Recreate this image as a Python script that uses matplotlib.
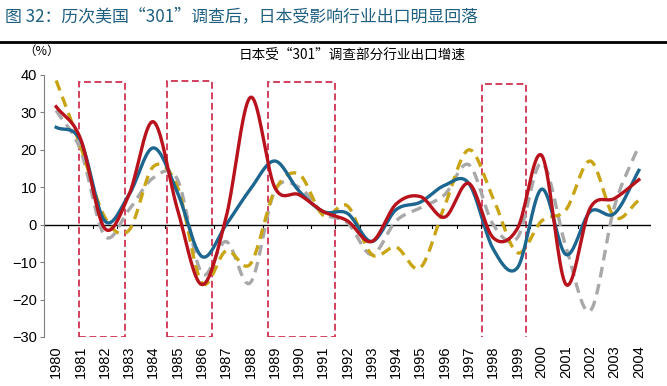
import matplotlib.pyplot as plt
import matplotlib.patches as patches
import numpy as np

plt.rcParams['font.family'] = ['Noto Sans CJK SC', 'DejaVu Sans']
latin = ['Liberation Sans', 'DejaVu Sans']

years = [str(y) for y in range(1980, 2005)]

# four industries (no legend in the original)
red = [31.5, 23, -1, 8, 27.5, 4, -16, 2, 34, 10, 8, 3.5, 1, -4.5, 5.5, 7.5, 2, 11, -3.5, -1, 18.5, -16, 4.5, 7, 12]
blue = [26, 22.5, 1, 8, 20.5, 8.5, -8.5, 0, 9.5, 17, 9, 3.5, 3, -4.5, 4, 6, 10.5, 11, -6.5, -11.5, 9.5, -8, 3.5, 3, 14.5]
gold = [38.5, 21, 2, -1.5, 15.5, 10, -15.5, -7, -10.5, 9, 13.5, 2.5, 5, -8, -6, -11.5, 5, 20, 7, -7.5, 1, 4, 17, 2, 6.5]
gray = [30.5, 20, -3, 4, 12.5, 12, -13, -4.5, -15.5, 9, 10, 3, 0.5, -8, 1, 4.5, 8, 16, 0, -3.5, 16.5, -6, -23, 5, 21]

# highlighted periods (category index start, end, top, bottom)
boxes = [(0.94, 2.83, 38, -30), (4.55, 6.43, 38.3, -30), (8.72, 11.47, 38, -30), (17.52, 19.35, 37.5, -31)]


def smooth(y, n=20):
    # catmull-rom through the points, like excel smoothed lines
    y = np.asarray(y, float)
    x = np.arange(len(y), dtype=float)
    px = np.concatenate([[2 * x[0] - x[1]], x, [2 * x[-1] - x[-2]]])
    py = np.concatenate([[2 * y[0] - y[1]], y, [2 * y[-1] - y[-2]]])
    xs, ys = [], []
    t = np.linspace(0, 1, n, endpoint=False)
    for i in range(1, len(px) - 2):
        for arr, out in ((px, xs), (py, ys)):
            p0, p1, p2, p3 = arr[i - 1], arr[i], arr[i + 1], arr[i + 2]
            out.extend(0.5 * (2 * p1 + (-p0 + p2) * t + (2 * p0 - 5 * p1 + 4 * p2 - p3) * t ** 2
                              + (-p0 + 3 * p1 - 3 * p2 + p3) * t ** 3))
    xs.append(x[-1])
    ys.append(y[-1])
    return np.array(xs), np.array(ys)


fig = plt.figure(figsize=(6.67, 3.86), dpi=100)
ax = fig.add_axes([0.066, 0.127, 0.91, 0.679])

for x0, x1, top, bot in boxes:
    ax.add_patch(patches.Rectangle((x0, bot), x1 - x0, top - bot, fill=False,
                                   edgecolor='#cf3352', lw=1.3, ls=(0, (3.8, 2)), zorder=1))

for data, c, ls in ((gray, '#a8a8a8', (0, (3.2, 2))), (gold, '#c9a516', (0, (3.2, 2))),
                    (blue, '#1c6690', '-'), (red, '#b8121c', '-')):
    sx, sy = smooth(data)
    ax.plot(sx, sy, color=c, lw=2.4, ls=ls, zorder=3)

ax.axhline(0, color='black', lw=1.0, zorder=2)
for b in np.arange(0.5, 24.6, 1.0):
    ax.plot([b, b], [0, -0.9], color='black', lw=0.8, zorder=2)

ax.set_xlim(-0.5, 24.5)
ax.set_ylim(-30, 40)
ax.set_yticks(range(-30, 41, 10))
ax.set_xticks(range(len(years)))
ax.set_xticklabels(years, rotation=90, fontsize=10.5, family=latin)
ax.tick_params(axis='x', length=0, pad=6)
ax.tick_params(axis='y', length=3, color='#808080', labelsize=10.5, pad=2)
for lab in ax.get_yticklabels():
    lab.set_family(latin)
for s in ('top', 'right', 'bottom'):
    ax.spines[s].set_visible(False)
ax.spines['left'].set_color('#808080')

fig.text(0.008, 0.958, '图 32：历次美国“301”调查后，日本受影响行业出口明显回落', fontsize=12.2,
         color='#1f5f80', va='center', ha='left')
fig.add_artist(plt.Line2D([0, 1], [0.891, 0.891], color='black', lw=2))
fig.text(0.528, 0.857, '日本受“301”调查部分行业出口增速', fontsize=9.8, ha='center', va='center')
fig.text(0.062, 0.866, '（%）', fontsize=9, ha='center', va='center')

fig.savefig('out.png', dpi=100)
